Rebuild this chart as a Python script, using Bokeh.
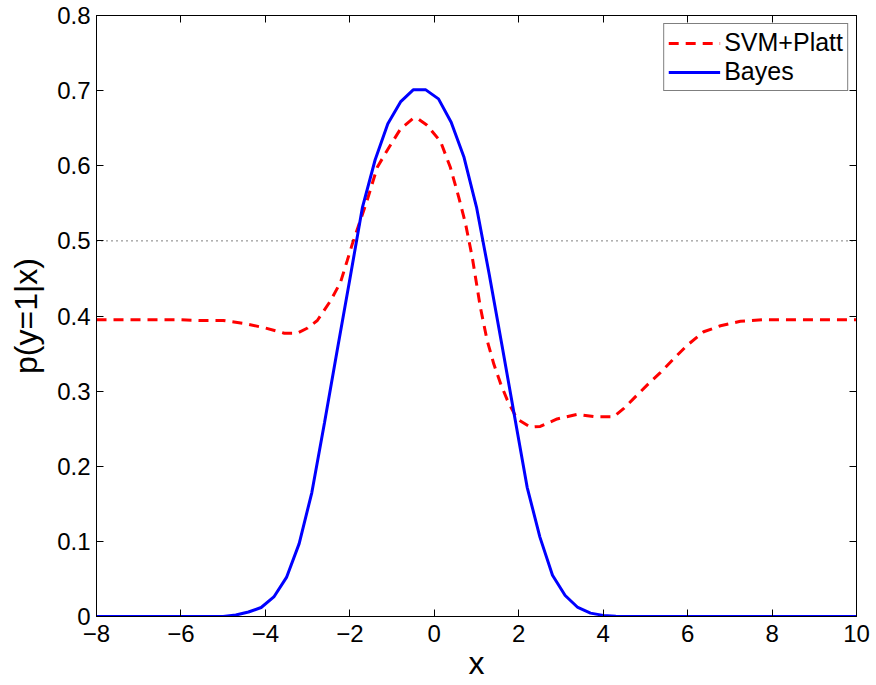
from bokeh.plotting import figure
from bokeh.models import (Range1d, LinearAxis, FixedTicker, Span, Legend, LegendItem,
                          CustomLabelingPolicy)
from bokeh.embed import file_html
from bokeh.resources import INLINE

# ---- data ----
x_svm = [-8, -7, -6, -5.5, -5, -4.5, -4, -3.55, -3.25, -3.0, -2.77, -2.46, -2.22, -2.06,
         -1.94, -1.59, -1.35, -1.12, -0.8, -0.5, -0.4, -0.17, 0.15, 0.38, 0.58, 0.74, 0.9,
         1.09, 1.25, 1.41, 1.57, 1.73, 1.96, 2.28, 2.51, 2.91, 3.38, 3.78, 4.25, 4.49, 4.72,
         5.04, 5.36, 5.67, 5.99, 6.38, 6.78, 7.25, 7.8, 10]
y_svm = [0.395, 0.395, 0.395, 0.394, 0.394, 0.390, 0.384, 0.377, 0.377, 0.384, 0.394, 0.420,
         0.445, 0.474, 0.496, 0.554, 0.598, 0.620, 0.649, 0.663, 0.663, 0.654, 0.632, 0.598,
         0.558, 0.523, 0.478, 0.412, 0.368, 0.336, 0.310, 0.288, 0.263, 0.252, 0.253, 0.263,
         0.269, 0.266, 0.266, 0.277, 0.290, 0.308, 0.325, 0.343, 0.361, 0.379, 0.387, 0.393,
         0.395, 0.395]

x_bayes = [-8, -5.0, -4.7, -4.4, -4.1, -3.8, -3.5, -3.2, -2.9, -2.6, -2.3, -2.0, -1.7, -1.4,
           -1.1, -0.8, -0.5, -0.2, 0.1, 0.4, 0.7, 1.0, 1.3, 1.6, 1.9, 2.2, 2.5, 2.8, 3.1, 3.4,
           3.7, 4.0, 4.3, 4.6, 10]
y_bayes = [0, 0, 0.002, 0.006, 0.012, 0.026, 0.052, 0.097, 0.165, 0.258, 0.354, 0.449, 0.545,
           0.608, 0.656, 0.685, 0.701, 0.701, 0.689, 0.658, 0.612, 0.545, 0.456, 0.362, 0.267,
           0.172, 0.106, 0.055, 0.028, 0.012, 0.0045, 0.0015, 0.0005, 0, 0]

x_ticks = [-8, -6, -4, -2, 0, 2, 4, 6, 8, 10]
x_tick_labels = ["\u22128", "\u22126", "\u22124", "\u22122", "0", "2", "4", "6", "8", "10"]
y_ticks = [0, 0.1, 0.2, 0.3, 0.4, 0.5, 0.6, 0.7, 0.8]
y_tick_labels = ["0", "0.1", "0.2", "0.3", "0.4", "0.5", "0.6", "0.7", "0.8"]
threshold = 0.5

FONT = "Liberation Sans"

p = figure(frame_width=760, frame_height=601, output_backend="svg", toolbar_location=None,
           x_range=Range1d(-8, 10), y_range=Range1d(0, 0.8),
           min_border_left=96, min_border_right=14, min_border_top=15, min_border_bottom=62,
           x_axis_label="x", y_axis_label="p(y=1|x)")
p.grid.visible = False
p.outline_line_color = "black"
p.outline_line_width = 1
p.background_fill_color = "white"
p.border_fill_color = "white"

for ax in (p.xaxis[0], p.yaxis[0]):
    ax.major_tick_in = 7
    ax.major_tick_out = 0
    ax.minor_tick_in = 0
    ax.minor_tick_out = 0
    ax.axis_line_color = "black"
    ax.major_tick_line_color = "black"
    ax.major_label_text_font = FONT
    ax.major_label_text_font_size = "24px"
    ax.major_label_text_color = "black"
    ax.axis_label_text_font = FONT
    ax.axis_label_text_font_size = "32px"
    ax.axis_label_text_font_style = "normal"
    ax.axis_label_text_color = "black"

p.xaxis[0].ticker = FixedTicker(ticks=x_ticks)
p.xaxis[0].major_label_overrides = dict(zip(x_ticks, x_tick_labels))
p.xaxis[0].major_label_standoff = 8
p.xaxis[0].axis_label_standoff = 0
p.yaxis[0].ticker = FixedTicker(ticks=y_ticks)
p.yaxis[0].major_label_overrides = dict(zip(y_ticks, y_tick_labels))
p.yaxis[0].major_label_standoff = 6
p.yaxis[0].axis_label_standoff = 10

# mirrored ticks on top and right (no labels)
def mirror_axis(ticks):
    return LinearAxis(ticker=FixedTicker(ticks=ticks), major_tick_in=7, major_tick_out=0,
                      minor_tick_in=0, minor_tick_out=0, major_label_standoff=0,
                      major_label_policy=CustomLabelingPolicy(code="return []"),
                      axis_line_color="black", major_tick_line_color="black")

p.add_layout(mirror_axis(x_ticks), "above")
p.add_layout(mirror_axis(y_ticks), "right")

p.add_layout(Span(location=threshold, dimension="width", line_color="#000000",
                  line_width=1, line_dash="1 4"))

r_svm = p.line(x_svm, y_svm, line_color="#ff0000", line_width=3, line_dash="10 7")
r_bayes = p.line(x_bayes, y_bayes, line_color="#0000ff", line_width=3)

legend = Legend(items=[LegendItem(label="SVM+Platt", renderers=[r_svm]),
                       LegendItem(label="Bayes", renderers=[r_bayes])],
                location="top_right")
legend.label_text_font = FONT
legend.label_text_font_size = "25px"
legend.label_text_color = "black"
legend.border_line_color = "black"
legend.border_line_width = 1
legend.background_fill_color = "white"
legend.background_fill_alpha = 1
legend.glyph_width = 52
legend.glyph_height = 26
legend.label_height = 26
legend.label_standoff = 4
legend.spacing = 0
legend.padding = 4
legend.margin = 8
p.add_layout(legend)

open("out.html", "w").write(file_html(p, INLINE))
